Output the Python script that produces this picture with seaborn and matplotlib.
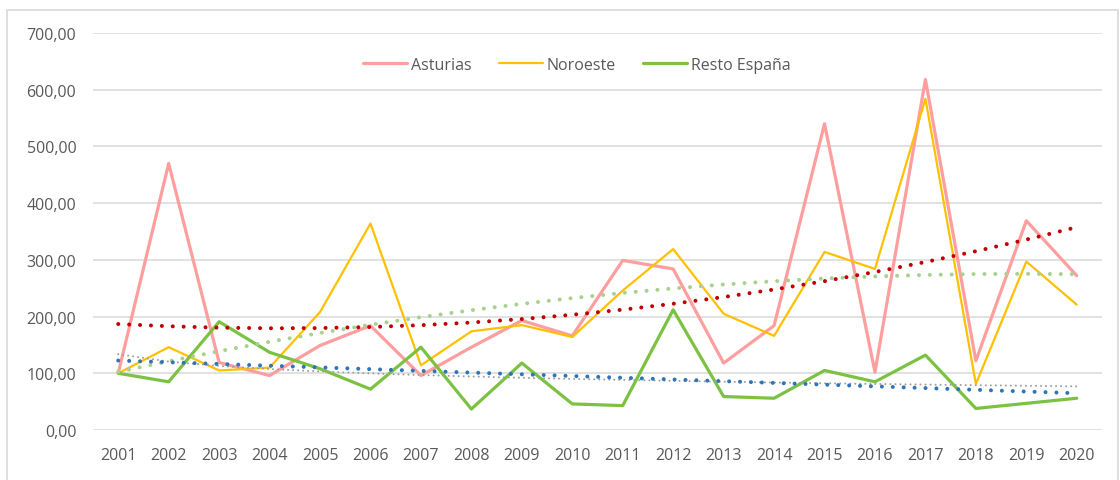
import numpy as np
import pandas as pd
import matplotlib
matplotlib.use("Agg")
import matplotlib.pyplot as plt
from matplotlib.patches import Rectangle
from matplotlib.ticker import FuncFormatter
import seaborn as sns

# ---- data ----
years = [str(y) for y in range(2001, 2021)]
asturias = [100, 470, 119, 96, 149, 184, 96, 146, 193, 166,
            299, 284, 118, 184, 540, 102, 618, 122, 369, 272]
noroeste = [100, 146, 105, 110, 208, 364, 114, 174, 185, 164,
            246, 319, 205, 166, 314, 284, 584, 81, 297, 221]
resto = [100, 85, 191, 137, 108, 72, 146, 37, 118, 46,
         43, 212, 59, 56, 105, 85, 132, 38, 47, 56]
series_names = ["Asturias", "Noroeste", "Resto España"]
yticks = [0, 100, 200, 300, 400, 500, 600, 700]

sns.set_theme(style="white")
plt.rcParams['font.family'] = ['Open Sans', 'DejaVu Sans']

W, H = 1120, 481
fig = plt.figure(figsize=(W / 100, H / 100), dpi=100)
ax = fig.add_axes([93 / W, 1 - 431 / H, (1102 - 93) / W, (431 - 34) / H])

colors = {"Asturias": "#FF9E9E", "Noroeste": "#FFC000", "Resto España": "#7CC242"}
widths = {"Asturias": 2.3, "Noroeste": 1.6, "Resto España": 2.3}
values = {"Asturias": asturias, "Noroeste": noroeste, "Resto España": resto}

for name in series_names:
    sns.lineplot(x=years, y=values[name], color=colors[name], linewidth=widths[name],
                 label=name, ax=ax, sort=False, zorder=2)

# ---- trend lines (fitted from the data, as in the spreadsheet) ----
t = np.arange(1, 21)
trend_ast = np.polyval(np.polyfit(t, asturias, 2), t)
trend_nor = np.polyval(np.polyfit(t, noroeste, 2), t)
trend_res_lin = np.polyval(np.polyfit(t, resto, 1), t)
lc = np.polyfit(np.log(t), resto, 1)
trend_res_log = lc[0] * np.log(t) + lc[1]

ax.plot(years, trend_res_log, color="#A0A0A0", lw=1.5, linestyle=(0, (0.01, 2.4)),
        dash_capstyle='round', zorder=3)
ax.plot(years, trend_nor, color="#A9D18E", lw=2.9, linestyle=(0, (0.01, 2.7)),
        dash_capstyle='round', zorder=3)
ax.plot(years, trend_res_lin, color="#2E75B6", lw=2.9, linestyle=(0, (0.01, 2.7)),
        dash_capstyle='round', zorder=3)
ax.plot(years, trend_ast, color="#C00000", lw=2.9, linestyle=(0, (0.01, 2.7)),
        dash_capstyle='round', zorder=3)

# ---- axes styling ----
ax.set_xlim(-0.5, 19.5)
ax.set_ylim(0, 700)
ax.set_yticks(yticks)
ax.yaxis.set_major_formatter(FuncFormatter(lambda v, p: f"{v:.2f}".replace('.', ',')))
ax.set_xlabel("")
ax.set_ylabel("")
for s in ax.spines.values():
    s.set_visible(False)
ax.yaxis.grid(True, color="#D9D9D9", lw=1.1, zorder=0)
ax.xaxis.grid(False)
ax.set_axisbelow(True)
ax.tick_params(axis='y', length=0, pad=12, labelsize=11.5, labelcolor="#595959")
ax.tick_params(axis='x', length=0, pad=12, labelsize=11.5, labelcolor="#595959")

fs = 11.5 * 100 / 72
ax.legend(loc='center', bbox_to_anchor=(577 / W, 1 - 66 / H), bbox_transform=fig.transFigure,
          ncol=3, frameon=False, fontsize=11.5, handlelength=44 / fs,
          handletextpad=4 / fs, columnspacing=27 / fs, labelcolor="#595959")

# chart frame
fig.patches.append(Rectangle((7 / W, -0.1), (1118 - 7) / W, 1 - 11 / H + 0.1,
                             transform=fig.transFigure, fill=False,
                             edgecolor="#D9D9D9", lw=1.2))

fig.savefig("out.png", dpi=100)
